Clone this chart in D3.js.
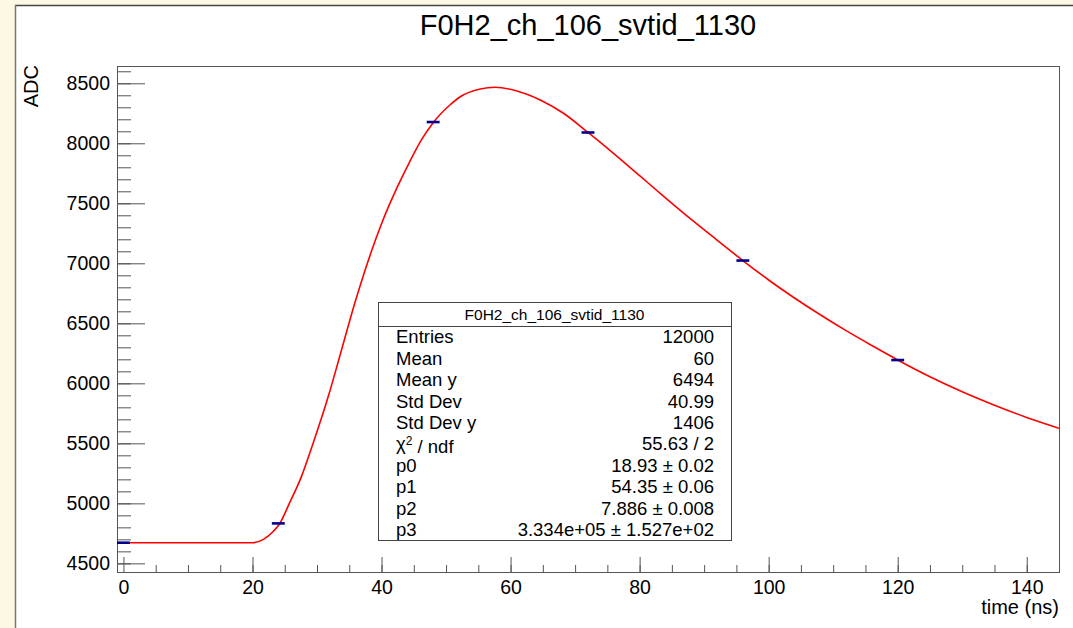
<!DOCTYPE html>
<html>
<head>
<meta charset="utf-8">
<script src="https://cdn.jsdelivr.net/npm/d3@7"></script>
<style>
  body { margin: 0; background: #fcf8e3; }
  svg { display: block; font-family: "Liberation Sans", Arial, Helvetica, sans-serif; }
</style>
</head>
<body>
<svg id="chart" width="1073" height="628"></svg>
<script>
// histogram name, axis titles
const histName = "F0H2_ch_106_svtid_1130";
const xTitle = "time (ns)";
const yTitle = "ADC";

// sampled points (blue markers)
const sampleTime = [0, 24, 48, 72, 96, 120];
const sampleAdc = [4672, 4833, 8177, 8090, 7023, 6194];
const binHalfWidth = 1;

// fit curve
const fitTime = [-1, 20, 21.7, 23.2, 24.2, 25.8, 27.6, 29.2, 31.8, 33.6, 35.7, 38.5, 40.0, 42.4,
  44.4, 46.2, 48.0, 50.6, 52.2, 55.3, 57.6, 61.0, 64.6, 68.2, 72, 76, 80, 84, 88, 92, 96,
  100, 104, 108, 112, 116, 120, 125, 130, 135, 140, 145];
const fitAdc = [4672, 4672, 4700, 4765, 4830, 5010, 5225, 5470, 5900, 6240, 6640, 7110, 7330, 7630,
  7850, 8030, 8172, 8319, 8388, 8453, 8467, 8436, 8361, 8250, 8090, 7914, 7730, 7546, 7366, 7194, 7023,
  6861, 6711, 6571, 6439, 6315, 6195, 6055, 5930, 5818, 5716, 5626];

// axis ticks
const xMajor = [0, 20, 40, 60, 80, 100, 120, 140];
const xMinor = d3.range(5, 145, 5);
const yMajor = [4500, 5000, 5500, 6000, 6500, 7000, 7500, 8000, 8500];
const yMinor = d3.range(4500, 8700, 100);

// stats box
const statLabels = ["Entries", "Mean", "Mean y", "Std Dev", "Std Dev y", "chi2", "p0", "p1", "p2", "p3"];
const statValues = ["12000", "60", "6494", "40.99", "1406", "55.63 / 2",
  "18.93 \u00b1 0.02", "54.35 \u00b1 0.06", "7.886 \u00b1 0.008", "3.334e+05 \u00b1 1.527e+02"];

const svg = d3.select("#chart");
const frame = { left: 117, top: 66, right: 1059, bottom: 572 };

// white pad with the dark bevel line on top / left
svg.append("rect").attr("x", 15).attr("y", 5).attr("width", 1073).attr("height", 640).attr("fill", "#fff");
svg.append("line").attr("x1", 15).attr("x2", 1073).attr("y1", 5.5).attr("y2", 5.5)
  .attr("stroke", "#444").attr("stroke-width", 1.5);
svg.append("line").attr("x1", 15.5).attr("x2", 15.5).attr("y1", 5).attr("y2", 628)
  .attr("stroke", "#777").attr("stroke-width", 1.5);

const x = d3.scaleLinear().domain([-1, 145]).range([frame.left, frame.right]);
const y = d3.scaleLinear().domain([4428, 8644]).range([frame.bottom, frame.top]);

const g = svg.append("g");

// x axis
const xAxisMajor = d3.axisBottom(x).tickValues(xMajor).tickSize(-15).tickPadding(8).tickFormat(d3.format("d"));
const xAxisMinor = d3.axisBottom(x).tickValues(xMinor).tickSize(-7).tickFormat(() => "");
const xg = g.append("g").attr("transform", `translate(0,${frame.bottom})`).call(xAxisMajor);
const xg2 = g.append("g").attr("transform", `translate(0,${frame.bottom})`).call(xAxisMinor);

// y axis
const yAxisMajor = d3.axisLeft(y).tickValues(yMajor).tickSize(-28).tickPadding(7).tickFormat(d3.format("d"));
const yAxisMinor = d3.axisLeft(y).tickValues(yMinor).tickSize(-14).tickFormat(() => "");
const yg = g.append("g").attr("transform", `translate(${frame.left},0)`).call(yAxisMajor);
const yg2 = g.append("g").attr("transform", `translate(${frame.left},0)`).call(yAxisMinor);

[xg, xg2, yg, yg2].forEach(a => {
  a.select(".domain").remove();
  a.selectAll(".tick line").attr("stroke", "#555").attr("stroke-width", 1);
  a.selectAll(".tick text").attr("fill", "#000").style("font-size", "19.5px");
});

// frame
g.append("rect")
  .attr("x", frame.left + 0.5).attr("y", frame.top + 0.5)
  .attr("width", frame.right - frame.left).attr("height", frame.bottom - frame.top)
  .attr("fill", "none").attr("stroke", "#555").attr("stroke-width", 1);

// clip for data
svg.append("clipPath").attr("id", "plotclip").append("rect")
  .attr("x", frame.left).attr("y", frame.top)
  .attr("width", frame.right - frame.left).attr("height", frame.bottom - frame.top);
const plot = g.append("g").attr("clip-path", "url(#plotclip)");

const fitData = fitTime.map((t, i) => [t, fitAdc[i]]);
const line = d3.line().x(d => x(d[0])).y(d => y(d[1])).curve(d3.curveMonotoneX);
plot.append("path")
  .datum(fitData)
  .attr("d", line)
  .attr("fill", "none")
  .attr("stroke", "#ff0000")
  .attr("stroke-width", 1.6);

// markers: horizontal bin-width bars
plot.selectAll(".marker")
  .data(sampleTime.map((t, i) => [t, sampleAdc[i]]))
  .enter().append("line")
  .attr("class", "marker")
  .attr("x1", d => x(d[0] - binHalfWidth))
  .attr("x2", d => x(d[0] + binHalfWidth))
  .attr("y1", d => y(d[1]))
  .attr("y2", d => y(d[1]))
  .attr("stroke", "#00008f")
  .attr("stroke-width", 2.6);

// titles
svg.append("text").attr("x", 588).attr("y", 35).attr("text-anchor", "middle")
  .style("font-size", "29px").text(histName);
svg.append("text").attr("x", frame.right).attr("y", 614).attr("text-anchor", "end")
  .style("font-size", "20px").text(xTitle);
svg.append("text").attr("transform", "translate(38,65) rotate(-90)").attr("text-anchor", "end")
  .style("font-size", "20px").text(yTitle);

// stats box
const box = { left: 378, top: 302, right: 731, bottom: 540, header: 326 };
const sb = svg.append("g");
sb.append("rect")
  .attr("x", box.left + 0.5).attr("y", box.top + 0.5)
  .attr("width", box.right - box.left).attr("height", box.bottom - box.top)
  .attr("fill", "#fff").attr("stroke", "#444");
sb.append("line").attr("x1", box.left).attr("x2", box.right)
  .attr("y1", box.header + 0.5).attr("y2", box.header + 0.5).attr("stroke", "#444");
sb.append("text").attr("x", (box.left + box.right) / 2).attr("y", box.header - 6)
  .attr("text-anchor", "middle").style("font-size", "15.5px").text(histName);

const rowH = (box.bottom - box.header) / statLabels.length;
statLabels.forEach((lab, i) => {
  const cy = box.header + rowH * (i + 0.5);
  const t = sb.append("text").attr("x", 396).attr("y", cy).attr("dy", "0.36em").style("font-size", "18.5px");
  if (lab === "chi2") {
    t.append("tspan").text("\u03c7");
    t.append("tspan").attr("dy", "-0.45em").style("font-size", "12px").text("2");
    t.append("tspan").attr("dy", "0.45em").text(" / ndf");
  } else {
    t.text(lab);
  }
  sb.append("text").attr("x", 714).attr("y", cy).attr("dy", "0.36em")
    .attr("text-anchor", "end").style("font-size", "18.5px").text(statValues[i]);
});
</script>
</body>
</html>
